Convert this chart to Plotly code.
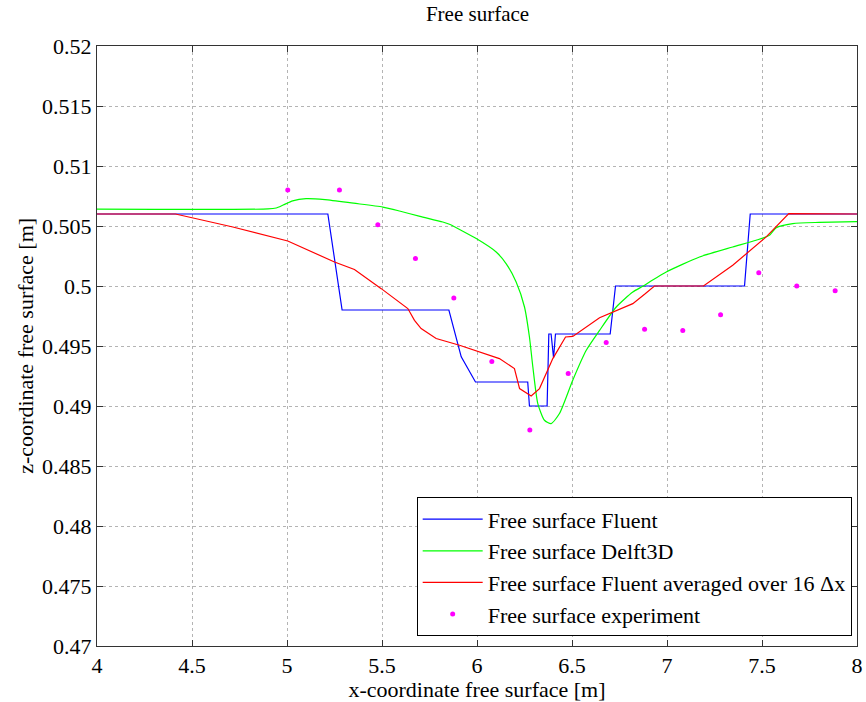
import plotly.graph_objects as go

# Fluent free surface (stepped profile)
fluent_x = [4.0, 5.215, 5.29, 5.852, 5.917, 5.992, 6.267, 6.276, 6.369, 6.378,
            6.39, 6.403, 6.413, 6.701, 6.729, 7.408, 7.438, 8.0]
fluent_z = [0.506, 0.506, 0.498, 0.498, 0.4941, 0.492, 0.492, 0.490, 0.490, 0.496,
            0.496, 0.494, 0.496, 0.496, 0.500, 0.500, 0.506, 0.506]

# Delft3D free surface
delft_x = [4.0, 4.90, 4.943, 4.98, 5.03, 5.10, 5.2, 5.35, 5.504, 5.592, 5.7, 5.82,
           5.855, 5.996, 6.101, 6.153, 6.206, 6.25, 6.276, 6.294, 6.32, 6.355, 6.39,
           6.434, 6.504, 6.575, 6.645, 6.733, 6.82, 6.873, 6.908, 6.996, 7.171, 7.346,
           7.469, 7.539, 7.575, 7.662, 7.8, 8.0]
delft_z = [0.5064, 0.50642, 0.5065, 0.50675, 0.5071, 0.50728, 0.5072, 0.5069, 0.50658,
           0.50625, 0.5058, 0.50533, 0.50514, 0.50395, 0.50283, 0.50187, 0.50033,
           0.49825, 0.49575, 0.49325, 0.4902, 0.48881, 0.48853, 0.48937, 0.49215,
           0.49464, 0.4963, 0.49825, 0.4995, 0.49998, 0.50033, 0.50117, 0.50242,
           0.50325, 0.50381, 0.50422, 0.50486, 0.5052, 0.5053, 0.50537]

# Fluent free surface averaged over 16 cells
avg_x = [4.0, 4.413, 4.715, 5.004, 5.25, 5.355, 5.496, 5.636, 5.671, 5.706, 5.785,
         5.908, 6.118, 6.197, 6.224, 6.285, 6.329, 6.399, 6.466, 6.504, 6.645, 6.82,
         6.882, 6.934, 7.192, 7.346, 7.522, 7.641, 8.0]
avg_z = [0.506, 0.506, 0.50492, 0.50375, 0.502, 0.50137, 0.49978, 0.49812, 0.49714,
         0.49645, 0.49562, 0.49506, 0.49395, 0.49312, 0.49145, 0.49083, 0.49145,
         0.49395, 0.49575, 0.4958, 0.49735, 0.49853, 0.49931, 0.5, 0.5, 0.50173,
         0.50409, 0.50603, 0.506]

# Measured free surface
exp_x = [5.004, 5.276, 5.478, 5.676, 5.878, 6.078, 6.278, 6.48, 6.68, 6.882,
         7.083, 7.282, 7.483, 7.683, 7.885]
exp_z = [0.508, 0.508, 0.5051, 0.5023, 0.4990, 0.4937, 0.4880, 0.4927, 0.4953,
         0.4964, 0.4963, 0.4976, 0.5011, 0.5000, 0.4996]

x_ticks = [4, 4.5, 5, 5.5, 6, 6.5, 7, 7.5, 8]
x_tick_text = ["4", "4.5", "5", "5.5", "6", "6.5", "7", "7.5", "8"]
y_ticks = [0.47, 0.475, 0.48, 0.485, 0.49, 0.495, 0.5, 0.505, 0.51, 0.515, 0.52]
y_tick_text = ["0.47", "0.475", "0.48", "0.485", "0.49", "0.495", "0.5",
               "0.505", "0.51", "0.515", "0.52"]

FONT = "Liberation Serif, Times New Roman, serif"

fig = go.Figure()
fig.add_trace(go.Scatter(x=fluent_x, y=fluent_z, mode="lines",
                         line=dict(color="#0000ff", width=1.2),
                         name="Free surface Fluent"))
fig.add_trace(go.Scatter(x=delft_x, y=delft_z, mode="lines",
                         line=dict(color="#00ff00", width=1.2, shape="spline", smoothing=0.6),
                         name="Free surface Delft3D"))
fig.add_trace(go.Scatter(x=avg_x, y=avg_z, mode="lines",
                         line=dict(color="#ff0000", width=1.2),
                         name="Free surface Fluent averaged over 16 \u0394x"))
fig.add_trace(go.Scatter(x=exp_x, y=exp_z, mode="markers",
                         marker=dict(color="#ff00ff", size=5),
                         name="Free surface experiment"))

axis_common = dict(
    showline=True, linecolor="#333333", linewidth=1, mirror="allticks",
    ticks="inside", ticklen=6, tickcolor="#333333",
    showgrid=True, gridcolor="#b4b4b4", griddash="dot", gridwidth=1,
    zeroline=False, automargin=False,
    tickfont=dict(family=FONT, size=22, color="black"),
)

fig.update_layout(
    width=866, height=702,
    margin=dict(l=97, r=9, t=46, b=56),
    paper_bgcolor="white", plot_bgcolor="white",
    font=dict(family=FONT, size=22, color="black"),
    title=dict(text="Free surface", x=0.5514, xanchor="center", y=0.98, yanchor="middle",
               automargin=False, font=dict(family=FONT, size=21, color="black")),
    xaxis=dict(range=[4, 8], tickvals=x_ticks, ticktext=x_tick_text,
               title=dict(text="x-coordinate free surface [m]", standoff=1,
                          font=dict(family=FONT, size=22)),
               **axis_common),
    yaxis=dict(range=[0.47, 0.52], tickvals=y_ticks, ticktext=y_tick_text,
               **axis_common),
    legend=dict(x=0.993, xanchor="right", y=0.016, yanchor="bottom",
                bgcolor="white", bordercolor="black", borderwidth=1,
                font=dict(family=FONT, size=22, color="black"),
                itemwidth=60, tracegroupgap=0),
    showlegend=True,
)

# vertical axis label, placed in paper coordinates left of the tick labels
fig.add_annotation(text="z-coordinate free surface [m]", textangle=-90,
                   xref="paper", yref="paper", x=-0.095, y=0.5,
                   xanchor="center", yanchor="middle", showarrow=False,
                   font=dict(family=FONT, size=22, color="black"))

fig.write_html("out.html")
